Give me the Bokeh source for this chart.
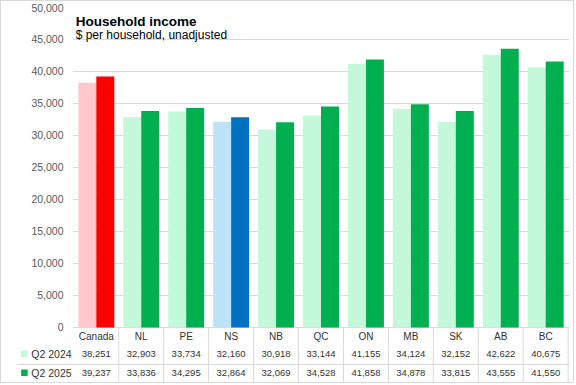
from bokeh.plotting import figure
from bokeh.models import (ColumnDataSource, FactorRange, Range1d, FixedTicker,
                          NumeralTickFormatter, Label, Span)
from bokeh.transform import dodge
from bokeh.core.properties import value
from bokeh.embed import file_html
from bokeh.resources import INLINE

# ---- data ----
categories = ["Canada", "NL", "PE", "NS", "NB", "QC", "ON", "MB", "SK", "AB", "BC"]
q2_2024 = [38251, 32903, 33734, 32160, 30918, 33144, 41155, 34124, 32152, 42622, 40675]
q2_2025 = [39237, 33836, 34295, 32864, 32069, 34528, 41858, 34878, 33815, 43555, 41550]
series_names = ["Q2 2024", "Q2 2025"]
y_ticks = [0, 5000, 10000, 15000, 20000, 25000, 30000, 35000, 40000, 45000, 50000]
title_text = "Household income"
subtitle_text = "$ per household, unadjusted"

# ---- styles ----
LIGHT_SPECIAL = {"Canada": "#FFC9CC", "NS": "#BFE2FB"}
DARK_SPECIAL = {"Canada": "#FF0000", "NS": "#0070C0"}
LIGHT_GREEN = "#C4F8DA"
DARK_GREEN = "#00B050"
GRID = "#D9D9D9"
TXT = "#333333"
TICK_TXT = "#595959"
FONT = "Liberation Sans"
BORDER = "1px solid #D9D9D9"

# data-table layout in data units (same vertical scale as the chart, below zero)
Y_CHART_MIN = -2969
Y_BOTTOM = -8906
ROW_CAT = -1437
ROW_24 = -4266
ROW_25 = -7234
ROW_SPLIT = -5937

src = ColumnDataSource(dict(
    cat=categories,
    tx=[("prov", c) for c in categories],
    v24=q2_2024,
    v25=q2_2025,
    c24=[LIGHT_SPECIAL.get(c, LIGHT_GREEN) for c in categories],
    c25=[DARK_SPECIAL.get(c, DARK_GREEN) for c in categories],
    t24=[f"{v:,}" for v in q2_2024],
    t25=[f"{v:,}" for v in q2_2025],
))
hdr = ColumnDataSource(dict(
    hx=[("hdr", "series"), ("hdr", "series")],
    y=[ROW_24, ROW_25],
    name=series_names,
    col=[LIGHT_GREEN, DARK_GREEN],
))

# ---------------- chart (with category row of the table) ----------------
x_range = FactorRange(factors=categories, range_padding=0.03, range_padding_units="absolute")
p = figure(x_range=x_range, y_range=Range1d(Y_CHART_MIN, 50000),
           width=574, height=345, output_backend="svg", toolbar_location=None,
           title=None, x_axis_location=None,
           min_border_left=71, min_border_right=6, min_border_top=6, min_border_bottom=0)
p.outline_line_color = None
p.border_fill_color = "white"
p.styles = {"border-top": BORDER, "border-left": BORDER, "border-right": BORDER}

p.yaxis.ticker = FixedTicker(ticks=y_ticks)
p.yaxis.formatter = NumeralTickFormatter(format="0,0")
p.yaxis.axis_line_color = None
p.yaxis.major_tick_line_color = None
p.yaxis.minor_tick_line_color = None
p.yaxis.major_tick_out = 0
p.yaxis.major_tick_in = 0
p.yaxis.major_label_standoff = 9
p.yaxis.major_label_text_font = FONT
p.yaxis.major_label_text_font_size = "10.5px"
p.yaxis.major_label_text_color = TICK_TXT
p.ygrid.ticker = FixedTicker(ticks=y_ticks)
p.ygrid.grid_line_color = GRID
p.xgrid.grid_line_color = None

p.vbar(x=dodge("cat", -0.2, range=x_range), top="v24", width=0.4, bottom=0,
       fill_color="c24", line_color=None, source=src)
p.vbar(x=dodge("cat", 0.2, range=x_range), top="v25", width=0.4, bottom=0,
       fill_color="c25", line_color=None, source=src)
p.segment(x0=dodge("cat", 0.5, range=x_range), y0=0,
          x1=dodge("cat", 0.5, range=x_range), y1=Y_CHART_MIN,
          line_color=GRID, line_width=1, source=src)
p.text(x="cat", y=ROW_CAT, text="cat", source=src, text_align="center",
       text_baseline="middle", text_font=value(FONT), text_font_size="10px", text_color=TXT)

p.add_layout(Label(x=0.04, y=47860, text=title_text, text_font=FONT, text_font_style="bold",
                   text_font_size="13.5px", text_color="#000000", text_baseline="alphabetic"))
p.add_layout(Label(x=0.04, y=45672, text=subtitle_text, text_font=FONT,
                   text_font_size="12px", text_color="#000000", text_baseline="alphabetic"))

# ---------------- value rows of the data table ----------------
tx_range = FactorRange(factors=[("hdr", "series")] + [("prov", c) for c in categories],
                       group_padding=0.245, factor_padding=0.0,
                       range_padding=0.03, range_padding_units="absolute")
t = figure(x_range=tx_range, y_range=Range1d(Y_BOTTOM, Y_CHART_MIN),
           width=574, height=38, output_backend="svg", toolbar_location=None,
           title=None, x_axis_location=None, y_axis_location=None,
           min_border_left=15, min_border_right=6, min_border_top=0, min_border_bottom=0)
t.outline_line_color = None
t.border_fill_color = "white"
t.xgrid.grid_line_color = None
t.ygrid.grid_line_color = None
t.styles = {"border-bottom": BORDER, "border-left": BORDER, "border-right": BORDER}

t.segment(x0=dodge("tx", 0.5, range=tx_range), y0=0,
          x1=dodge("tx", 0.5, range=tx_range), y1=Y_BOTTOM,
          line_color=GRID, line_width=1, source=src)
t.add_layout(Span(location=ROW_SPLIT, dimension="width", line_color=GRID, line_width=1))

t.text(x="tx", y=ROW_24, text="t24", source=src, text_align="center",
       text_baseline="middle", text_font=value(FONT), text_font_size="9.5px", text_color=TXT)
t.text(x="tx", y=ROW_25, text="t25", source=src, text_align="center",
       text_baseline="middle", text_font=value(FONT), text_font_size="9.5px", text_color=TXT)

t.scatter(x=dodge("hx", -0.355, range=tx_range), y="y", marker="square", size=6.5,
          fill_color="col", line_color=None, source=hdr)
t.text(x=dodge("hx", -0.2, range=tx_range), y="y", text="name", source=hdr,
       text_align="left", text_baseline="middle", text_font=value(FONT),
       text_font_size="10.5px", text_color=TXT)

open("out.html", "w").write(file_html([p, t], INLINE))
